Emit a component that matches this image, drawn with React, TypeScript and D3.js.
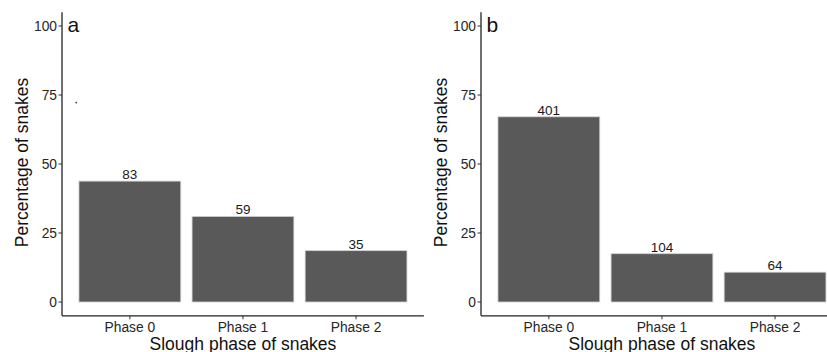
import React from "react";
import * as d3 from "d3";

const categories = ["Phase 0", "Phase 1", "Phase 2"];
const valuesA = [43.8, 31.0, 18.6];
const countsA = [83, 59, 35];
const valuesB = [67.1, 17.5, 10.8];
const countsB = [401, 104, 64];
const yTicks = [0, 25, 50, 75, 100];
const panelLabels = ["a", "b"];

const W = 827;
const H = 352;
const FONT = "Arial, 'Liberation Sans', Helvetica, sans-serif";

function Panel({ left, values, counts, label, stray }: { left: number; values: number[]; counts: number[]; label: string; stray?: boolean }) {
  const unit = 113.1;
  const right = left + unit * 3.2;
  const y = d3.scaleLinear().domain([-5, 105]).range([315.8, 12.2]);
  const x = d3
    .scaleBand<string>()
    .domain(categories)
    .range([left + 0.1 * unit, right - 0.1 * unit])
    .paddingInner(0.1)
    .paddingOuter(0.05);
  const axisColor = "#222";
  const bottom = y(-5);
  const top = y(105);
  return (
    <g>
      {categories.map((c, i) => (
        <g key={c}>
          <rect
            x={x(c)}
            y={y(values[i])}
            width={x.bandwidth()}
            height={y(0) - y(values[i])}
            fill="#595959"
            stroke="#d0d0d0"
            strokeWidth={0.8}
          />
          <text x={(x(c) as number) + x.bandwidth() / 2} y={y(values[i]) - 2} textAnchor="middle" fontSize={13.5} fill="#1a1a1a" fontFamily={FONT}>
            {counts[i]}
          </text>
          <line x1={(x(c) as number) + x.bandwidth() / 2} x2={(x(c) as number) + x.bandwidth() / 2} y1={bottom} y2={bottom + 3.5} stroke="#333" strokeWidth={1} />
          <text x={(x(c) as number) + x.bandwidth() / 2} y={331.5} textAnchor="middle" fontSize={13.8} fill="#262626" fontFamily={FONT}>
            {c}
          </text>
        </g>
      ))}
      <line x1={left} x2={left} y1={top} y2={bottom} stroke={axisColor} strokeWidth={1.3} />
      <line x1={left} x2={right} y1={bottom} y2={bottom} stroke={axisColor} strokeWidth={1.3} />
      {yTicks.map((t) => (
        <g key={t}>
          <line x1={left - 3.5} x2={left} y1={y(t)} y2={y(t)} stroke="#333" strokeWidth={1} />
          <text x={left - 5} y={y(t)} dy="0.36em" textAnchor="end" fontSize={13.8} fill="#262626" fontFamily={FONT}>
            {t}
          </text>
        </g>
      ))}
      <text
        transform={`translate(${left - 34},${162.5}) rotate(-90)`}
        textAnchor="middle"
        fontSize={17.5}
        fill="#111"
        fontFamily={FONT}
      >
        Percentage of snakes
      </text>
      <text x={left + (unit * 3.2) / 2} y={349.5} textAnchor="middle" fontSize={17.5} fill="#111" fontFamily={FONT}>
        Slough phase of snakes
      </text>
      <text x={left + 5.5} y={32} fontSize={21} fill="#111" fontFamily={FONT}>
        {label}
      </text>
      {stray && <rect x={left + 13.5} y={101.8} width={1.5} height={1.5} fill="#333" />}
    </g>
  );
}

export default function App() {
  return (
    <svg width={W} height={H} style={{ display: "block", position: "absolute", left: 0, top: 0, background: "#fff" }}>
      <rect width={W} height={H} fill="#fff" />
      <Panel left={62} values={valuesA} counts={countsA} label={panelLabels[0]} stray />
      <Panel left={481} values={valuesB} counts={countsB} label={panelLabels[1]} />
    </svg>
  );
}
